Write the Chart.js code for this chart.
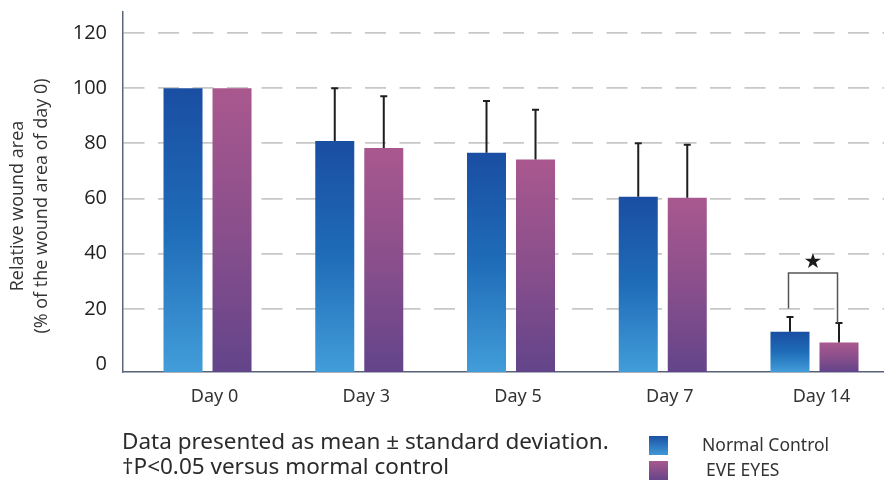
<!DOCTYPE html>
<html lang="en">
<head>
    <meta charset="UTF-8">
    <title>Relative wound area</title>
    <script src="https://cdn.jsdelivr.net/npm/chart.js@4"></script>
    <style>
        body { margin: 0; background: #fff; }
        #wrap { position: relative; width: 884px; height: 482px; overflow: hidden; }
        #chart { position: absolute; left: 0; top: 0; }
        .note { position: absolute; left: 122px; top: 428px; font-family: 'Noto Sans', sans-serif; font-size: 22.5px; line-height: 25px; color: #2b2b2b; white-space: nowrap; }
        .key { position: absolute; left: 649px; width: 19px; height: 19px; }
        .key-label { position: absolute; font-family: 'Noto Sans', sans-serif; font-size: 17.5px; line-height: 18px; color: #333; white-space: nowrap; }
    </style>
</head>
<body>
<div id="wrap">
    <canvas id="chart" width="884" height="482"></canvas>
    <div class="note">Data presented as mean ± standard deviation.<br>†P&lt;0.05 versus mormal control</div>
    <div class="key" style="top: 436px; background: linear-gradient(#1c52a4, #3f98d6);"></div>
    <div class="key" style="top: 461px; background: linear-gradient(#a8588e, #674489);"></div>
    <div class="key-label" style="left: 702px; top: 435px;">Normal Control</div>
    <div class="key-label" style="left: 706px; top: 460px;">EVE EYES</div>
</div>

<script>
    // values
    const days = ['Day 0', 'Day 3', 'Day 5', 'Day 7', 'Day 14'];
    const normalControl = [100, 80.8, 76.6, 60.6, 11.7];
    const eveEyes = [100, 78.3, 74.1, 60.3, 7.8];
    const normalUpper = [null, 100, 95.3, 80, 17];   // top of the SD whisker
    const eveUpper = [null, 97.1, 92.2, 79.5, 14.9];
    const yTicks = [0, 20, 40, 60, 80, 100, 120];
    const sigDay = 4;          // Day 14 bracket
    const sigLevel = 33;
    const sigLeftFoot = 20.1;

    const Y_MIN = -2.9;
    const Y_MAX = 127.6;

    function barGradient(stops) {
        return (ctx) => {
            const chart = ctx.chart;
            if (!chart.chartArea || ctx.type !== 'data') return stops[0];
            const y = chart.scales.y;
            const top = y.getPixelForValue(ctx.parsed.y);
            const bottom = y.getPixelForValue(Y_MIN);
            if (!isFinite(top) || !isFinite(bottom) || top === bottom) return stops[0];
            const g = chart.ctx.createLinearGradient(0, top, 0, bottom);
            g.addColorStop(0, stops[0]);
            g.addColorStop(0.5, stops[1]);
            g.addColorStop(1, stops[2]);
            return g;
        };
    }

    const extras = {
        id: 'extras',
        afterDatasetsDraw(chart) {
            const ctx = chart.ctx;
            const y = chart.scales.y;
            const uppers = [normalUpper, eveUpper];

            // error whiskers
            ctx.save();
            ctx.strokeStyle = '#1e1e1e';
            ctx.lineWidth = 2;
            uppers.forEach((arr, di) => {
                const meta = chart.getDatasetMeta(di);
                meta.data.forEach((bar, i) => {
                    if (arr[i] == null) return;
                    const yTop = y.getPixelForValue(arr[i]);
                    ctx.beginPath();
                    ctx.moveTo(bar.x, bar.y);
                    ctx.lineTo(bar.x, yTop);
                    ctx.moveTo(bar.x - 3.5, yTop);
                    ctx.lineTo(bar.x + 3.5, yTop);
                    ctx.stroke();
                });
            });
            ctx.restore();

            // significance bracket
            const x1 = chart.getDatasetMeta(0).data[sigDay].x - 1.5;
            const x2 = chart.getDatasetMeta(1).data[sigDay].x - 1.5;
            const top = y.getPixelForValue(sigLevel);
            ctx.save();
            ctx.strokeStyle = '#555';
            ctx.lineWidth = 1.5;
            ctx.beginPath();
            ctx.moveTo(x1, y.getPixelForValue(sigLeftFoot));
            ctx.lineTo(x1, top);
            ctx.lineTo(x2, top);
            ctx.lineTo(x2, y.getPixelForValue(eveUpper[sigDay]));
            ctx.stroke();
            ctx.fillStyle = '#1a1a1a';
            ctx.font = '21px "DejaVu Sans"';
            ctx.textAlign = 'center';
            ctx.textBaseline = 'middle';
            ctx.fillText('★', (x1 + x2) / 2, top - 10);
            ctx.restore();
        },
        afterDraw(chart) {
            const ctx = chart.ctx;
            ctx.save();
            ctx.fillStyle = '#333';
            ctx.font = '18px "Open Sans"';
            ctx.textAlign = 'center';
            ctx.textBaseline = 'middle';
            ctx.translate(18, 206);
            ctx.rotate(-Math.PI / 2);
            ctx.fillText('Relative wound area', 0, 0);
            ctx.fillText('(% of the wound area of day 0)', 0, 24);
            ctx.restore();
        }
    };

    const chart = new Chart(document.getElementById('chart'), {
        type: 'bar',
        data: {
            datasets: [{
                label: 'Normal Control',
                data: days.map((d, i) => ({ x: i, y: normalControl[i] })),
                backgroundColor: barGradient(['#1a4ea2', '#1f6cb8', '#429dd9']),
                base: Y_MIN
            }, {
                label: 'EVE EYES',
                data: days.map((d, i) => ({ x: i, y: eveEyes[i] })),
                backgroundColor: barGradient(['#a9588e', '#8a4f8c', '#63448a']),
                base: Y_MIN
            }]
        },
        options: {
            responsive: false,
            animation: false,
            categoryPercentage: 0.646,
            barPercentage: 0.796,
            layout: { padding: { top: 12, left: 0, right: 0, bottom: 0 } },
            plugins: {
                legend: { display: false },
                tooltip: { enabled: false }
            },
            scales: {
                x: {
                    type: 'linear',
                    offset: false,
                    min: -0.557,
                    max: 4.458,
                    afterFit: (scale) => {
                        scale.height = 110;
                        scale.paddingLeft = 0;
                        scale.paddingRight = 0;
                    },
                    grid: { display: false, drawTicks: false },
                    border: { display: true, color: '#56627a', width: 1.5 },
                    ticks: {
                        stepSize: 1,
                        includeBounds: false,
                        autoSkip: false,
                        maxRotation: 0,
                        padding: 14,
                        labelOffset: 7,
                        color: '#333',
                        font: { family: "'Noto Sans'", size: 18 },
                        callback: (v) => days[v] ?? ''
                    }
                },
                y: {
                    min: Y_MIN,
                    max: Y_MAX,
                    afterFit: (scale) => {
                        scale.width = 123;
                        scale.paddingTop = 0;
                        scale.paddingBottom = 0;
                    },
                    afterBuildTicks: (scale) => { scale.ticks = yTicks.map(v => ({ value: v })); },
                    grid: {
                        drawTicks: false,
                        lineWidth: 1.8,
                        color: (c) => c.tick && c.tick.value === 0 ? 'rgba(0,0,0,0)' : '#c8c8c8'
                    },
                    border: { display: true, color: '#5c6478', width: 1.5, dash: [21, 13.5] },
                    ticks: {
                        padding: 16,
                        color: '#222',
                        font: { family: "'Open Sans'", size: 20 }
                    }
                }
            }
        },
        plugins: [extras]
    });
</script>
</body>
</html>
